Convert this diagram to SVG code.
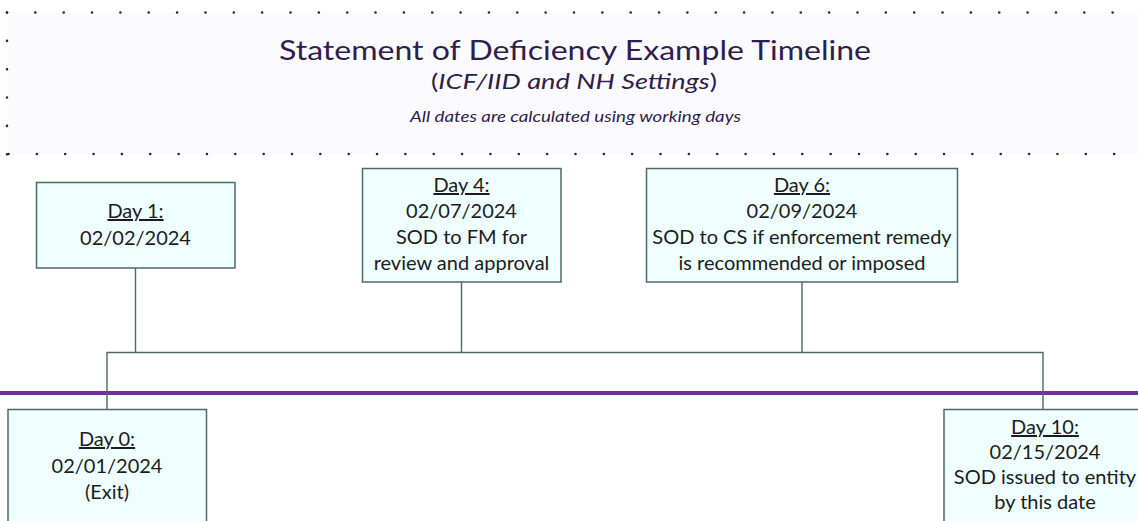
<svg xmlns="http://www.w3.org/2000/svg" width="1138" height="521" viewBox="0 0 1138 521">
  <style>
    .box { fill: #effefe; stroke: #4d6a69; stroke-width: 1.5; }
    .lbl { font-family: Lato, "Open Sans", "Liberation Sans", sans-serif; font-size: 20px; fill: #1c1c1c; text-anchor: middle; }
    .day { text-decoration: underline; }
    .wire { fill: none; stroke: #4d6a69; stroke-width: 1.4; }
    .dots { fill: none; stroke: #2e2247; stroke-width: 2.6; stroke-linecap: round; stroke-dasharray: 0 28.35; }
    .head { font-family: Lato, "Open Sans", "Liberation Sans", sans-serif; fill: #2f1d4d; text-anchor: middle; }
  </style>

  <rect width="1138" height="521" fill="#ffffff"/>

  <!-- header panel with dotted border -->
  <g id="header">
    <rect x="7" y="12" width="1140" height="142" fill="#fbfbfe"/>
    <line class="dots" x1="7" y1="12.5" x2="1138" y2="12.5"/>
    <line class="dots" x1="8.5" y1="154" x2="1138" y2="154"/>
    <line class="dots" x1="7" y1="12.5" x2="7" y2="160"/>
    <text class="head" x="575" y="60" font-size="27" textLength="592" lengthAdjust="spacingAndGlyphs">Statement of Deficiency Example Timeline</text>
    <text class="head" x="574" y="89" font-size="22" textLength="286" lengthAdjust="spacingAndGlyphs">(<tspan font-style="italic">ICF/IID and NH Settings</tspan>)</text>
    <text class="head" x="575.5" y="122" font-size="14.5" font-style="italic" fill="#2a2a3a" textLength="331" lengthAdjust="spacingAndGlyphs">All dates are calculated using working days</text>
  </g>

  <!-- timeline axis -->
  <line x1="0" y1="393" x2="1138" y2="393" stroke="#7030a0" stroke-width="4"/>

  <!-- connectors -->
  <g id="connectors">
    <line class="wire" x1="135.5" y1="268" x2="135.5" y2="352.5"/>
    <line class="wire" x1="461.5" y1="282" x2="461.5" y2="352.5"/>
    <line class="wire" x1="802" y1="282" x2="802" y2="352.5"/>
    <polyline class="wire" points="107,409 107,352.5 1043,352.5 1043,409"/>
  </g>

  <g id="day1">
    <rect class="box" x="36.5" y="182.5" width="198.5" height="85.5"/>
    <text class="lbl" x="135.5" y="218"><tspan class="day">Day 1:</tspan></text>
    <text class="lbl" x="135.5" y="245">02/02/2024</text>
  </g>

  <g id="day4">
    <rect class="box" x="362.5" y="168.5" width="198.5" height="113.5"/>
    <text class="lbl" x="461.5" y="192"><tspan class="day">Day 4:</tspan></text>
    <text class="lbl" x="461.5" y="218">02/07/2024</text>
    <text class="lbl" x="461.5" y="244">SOD to FM for</text>
    <text class="lbl" x="461.5" y="270">review and approval</text>
  </g>

  <g id="day6">
    <rect class="box" x="646.5" y="168.5" width="311" height="113.5"/>
    <text class="lbl" x="802" y="192"><tspan class="day">Day 6:</tspan></text>
    <text class="lbl" x="802" y="218">02/09/2024</text>
    <text class="lbl" x="802" y="244">SOD to CS if enforcement remedy</text>
    <text class="lbl" x="802" y="270">is recommended or imposed</text>
  </g>

  <g id="day0">
    <rect class="box" x="8" y="409.5" width="198.5" height="130"/>
    <text class="lbl" x="107" y="446"><tspan class="day">Day 0:</tspan></text>
    <text class="lbl" x="107" y="473">02/01/2024</text>
    <text class="lbl" x="107" y="499">(Exit)</text>
  </g>

  <g id="day10">
    <rect class="box" x="944" y="409.5" width="200" height="130"/>
    <text class="lbl" x="1045" y="434"><tspan class="day">Day 10:</tspan></text>
    <text class="lbl" x="1045" y="459">02/15/2024</text>
    <text class="lbl" x="1045" y="484">SOD issued to entity</text>
    <text class="lbl" x="1045" y="509">by this date</text>
  </g>
</svg>
